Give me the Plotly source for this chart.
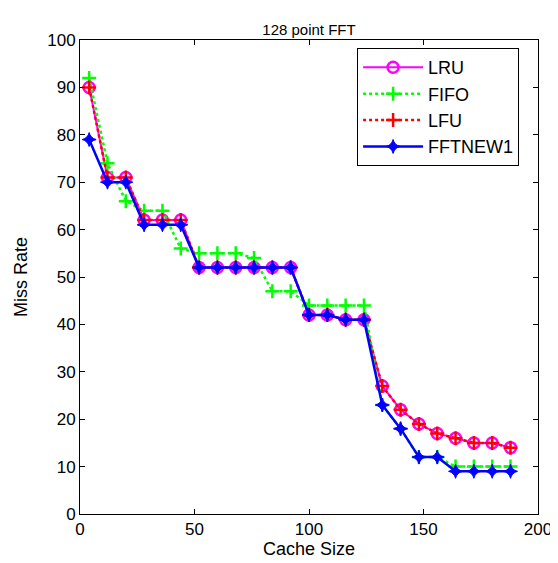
import plotly.graph_objects as go

cache_size = [4, 12, 20, 28, 36, 44, 52, 60, 68, 76, 84, 92, 100, 108, 116, 124,
              132, 140, 148, 156, 164, 172, 180, 188]
lru = [90, 71, 71, 62, 62, 62, 52, 52, 52, 52, 52, 52, 42, 42, 41, 41,
       27, 22, 19, 17, 16, 15, 15, 14]
fifo = [92, 74, 66, 64, 64, 56, 55, 55, 55, 54, 47, 47, 44, 44, 44, 44,
        23, 18, 12, 12, 10, 10, 10, 10]
lfu = [90, 71, 71, 62, 62, 62, 52, 52, 52, 52, 52, 52, 42, 42, 41, 41,
       27, 22, 19, 17, 16, 15, 15, 14]
fftnew1 = [79, 70, 70, 61, 61, 61, 52, 52, 52, 52, 52, 52, 42, 42, 41, 41,
           23, 18, 12, 12, 9, 9, 9, 9]

FONT = "Liberation Sans, Arial, sans-serif"

fig = go.Figure()
fig.add_trace(go.Scatter(
    x=cache_size, y=lru, name="LRU", mode="lines+markers",
    line=dict(color="#FF00FF", width=2),
    marker=dict(symbol="circle-open", size=11, color="#FF00FF", line=dict(width=2.5))))
fig.add_trace(go.Scatter(
    x=cache_size, y=fifo, name="FIFO", mode="lines+markers",
    line=dict(color="#00FF00", width=2.5, dash="dot"),
    marker=dict(symbol="cross-thin-open", size=10, color="#00FF00", line=dict(width=2.5, color="#00FF00"))))
fig.add_trace(go.Scatter(
    x=cache_size, y=lfu, name="LFU", mode="lines+markers",
    line=dict(color="#FF0000", width=2.5, dash="dot"),
    marker=dict(symbol="cross-thin-open", size=10, color="#FF0000", line=dict(width=2.5, color="#FF0000"))))
fig.add_trace(go.Scatter(
    x=cache_size, y=fftnew1, name="FFTNEW1", mode="lines+markers",
    line=dict(color="#0000FF", width=2.5),
    marker=dict(symbol="star-diamond", size=10, color="#0000FF", line=dict(width=1, color="#0000FF"))))

axis_common = dict(
    showgrid=False, zeroline=False, showline=True, linecolor="black", linewidth=1,
    mirror="allticks", ticks="inside", ticklen=5, tickcolor="black",
    tickfont=dict(family=FONT, size=17, color="black"), automargin=False,
)
fig.update_xaxes(range=[0, 200], tickvals=[0, 50, 100, 150, 200],
                 title=dict(text="Cache Size", font=dict(family=FONT, size=18, color="black"), standoff=2),
                 **axis_common)
fig.update_yaxes(range=[0, 100], tickvals=list(range(0, 101, 10)),
                 title=dict(text="Miss Rate", font=dict(family=FONT, size=18, color="black"), standoff=14),
                 **axis_common)

fig.update_layout(
    width=558, height=563,
    margin=dict(l=72, r=28, t=32, b=57, autoexpand=False),
    paper_bgcolor="white", plot_bgcolor="white",
    title=dict(text="128 point FFT", x=(72 + 229) / 558, xanchor="center",
               y=1 - 22 / 563, yanchor="middle",
               font=dict(family=FONT, size=15, color="black")),
    font=dict(family=FONT, color="black"),
    legend=dict(x=0.605, y=0.983, xanchor="left", yanchor="top",
                bordercolor="black", borderwidth=1, bgcolor="white",
                font=dict(family=FONT, size=18, color="black"),
                itemwidth=60, tracegroupgap=0),
    showlegend=True,
)

fig.write_html("out.html")
